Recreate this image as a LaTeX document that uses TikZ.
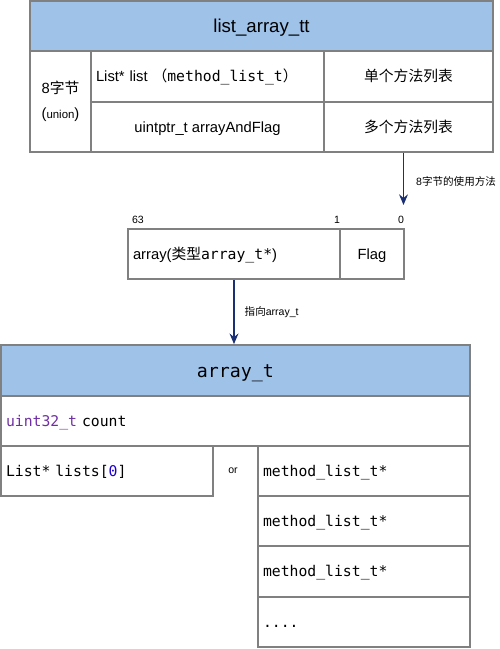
\documentclass[tikz,border=0pt]{standalone}
\usepackage{fontspec}
\setmainfont{Liberation Sans}
\setmonofont{DejaVu Sans Mono}
\newfontfamily\cjk{Noto Sans CJK SC}
\usetikzlibrary{arrows.meta}

\definecolor{hdrblue}{HTML}{9FC2E9}
\definecolor{cellgray}{HTML}{808080}
\definecolor{ptrnavy}{HTML}{1B2F74}
\definecolor{typepurple}{HTML}{6F2FA3}
\definecolor{numblue}{HTML}{1C00CF}

\tikzset{
	cell/.style = {draw = cellgray, line width = 1pt, inner sep = 0pt, font = \fontsize{8.4}{10}\selectfont},
	row/.style = {cell, text height = 7.6pt, text depth = 1.5pt},
	hdr/.style = {cell, fill = hdrblue, text height = 9pt, text depth = 1.4pt},
	cn/.style = {font = \cjk\fontsize{8.4}{10}\selectfont},
	code/.style = {font = \ttfamily\fontsize{8.4}{10}\selectfont},
	small/.style = {font = \fontsize{6}{7.5}\selectfont, inner sep = 1pt},
	ptr/.style = {draw = ptrnavy, line width = 1.1pt, -{Stealth[length = 6pt, width = 5pt]}}
}

\begin{document}
\begin{tikzpicture}[x = 0.02cm, y = -0.02cm]
	\useasboundingbox (0, 0) rectangle (500, 649);
	% list_array_tt
	\node [hdr, minimum width = 9.26cm, minimum height = 1cm, font = \fontsize{10.6}{12}\selectfont] (lathead) at (261.5, 26) {list\_array\_tt};
	\node [cell, minimum width = 1.22cm, minimum height = 2.02cm, align = center] (union) at (60.5, 101.5) {8{\cjk 字节}\\[4pt]({\fontsize{6.5}{8}\selectfont union})};
	\node [row, minimum width = 4.66cm, minimum height = 1.02cm, text width = 4.46cm, align = left] (single) at (207.5, 76.5) {List* list {\cjk （}\texttt{method\_list\_t}{\cjk ）}};
	\node [row, cn, minimum width = 3.38cm, minimum height = 1.02cm] (singlecn) at (408.5, 76.5) {单个方法列表};
	\node [row, minimum width = 4.66cm, minimum height = 1cm] (multi) at (207.5, 127) {uintptr\_t arrayAndFlag};
	\node [row, cn, minimum width = 3.38cm, minimum height = 1cm] (multicn) at (408.5, 127) {多个方法列表};
	\coordinate (flagtip) at (403.5, 205);
	\draw [ptr] (multicn.south -| flagtip) -- (flagtip) node [small, right = 0.2cm, pos = 0.55] (usagelbl) {8{\cjk 字节的使用方法}};

	% 64 bits
	\node [small] (bit63) at (138, 219.5) {63};
	\node [small] (bit1) at (337, 219.5) {1};
	\node [small] (bit0) at (401, 219.5) {0};
	\node [row, minimum width = 4.24cm, minimum height = 1cm, text width = 4.04cm, align = left] (arrbits) at (234, 254) {array({\cjk 类型}\texttt{array\_t*})};
	\node [row, minimum width = 1.28cm, minimum height = 1cm] (flag) at (372, 254) {Flag};

	% array_t
	\node [hdr, minimum width = 9.38cm, minimum height = 1.02cm, font = \ttfamily\fontsize{10.4}{12}\selectfont, text height = 8.8pt, text depth = 1.3pt] (athead) at (235.5, 370.5) {array\_t};
	\draw [ptr] (arrbits.south) -- (arrbits.south |- athead.north) node [small, right = 0.16cm, pos = 0.5] (pointlbl) {{\cjk 指向}array\_t};
	\node [row, code, minimum width = 9.38cm, minimum height = 1cm, text width = 9.18cm, align = left] (count) at (235.5, 421) {\textcolor{typepurple}{uint32\_t} count};
	\node [row, code, minimum width = 4.24cm, minimum height = 1cm, text width = 4.04cm, align = left] (lists) at (107, 471) {List* lists[\textcolor{numblue}{0}]};
	\node [small] (orlbl) at (233, 471) {or};
	\node [row, code, minimum width = 4.24cm, minimum height = 1cm, text width = 4.04cm, align = left] (mlist1) at (364, 471) {method\_list\_t*};
	\node [row, code, minimum width = 4.24cm, minimum height = 1cm, text width = 4.04cm, align = left] (mlist2) at (364, 521) {method\_list\_t*};
	\node [row, code, minimum width = 4.24cm, minimum height = 1.02cm, text width = 4.04cm, align = left] (mlist3) at (364, 571.5) {method\_list\_t*};
	\node [row, code, minimum width = 4.24cm, minimum height = 1cm, text width = 4.04cm, align = left] (mlist4) at (364, 622) {....};
\end{tikzpicture}
\end{document}
